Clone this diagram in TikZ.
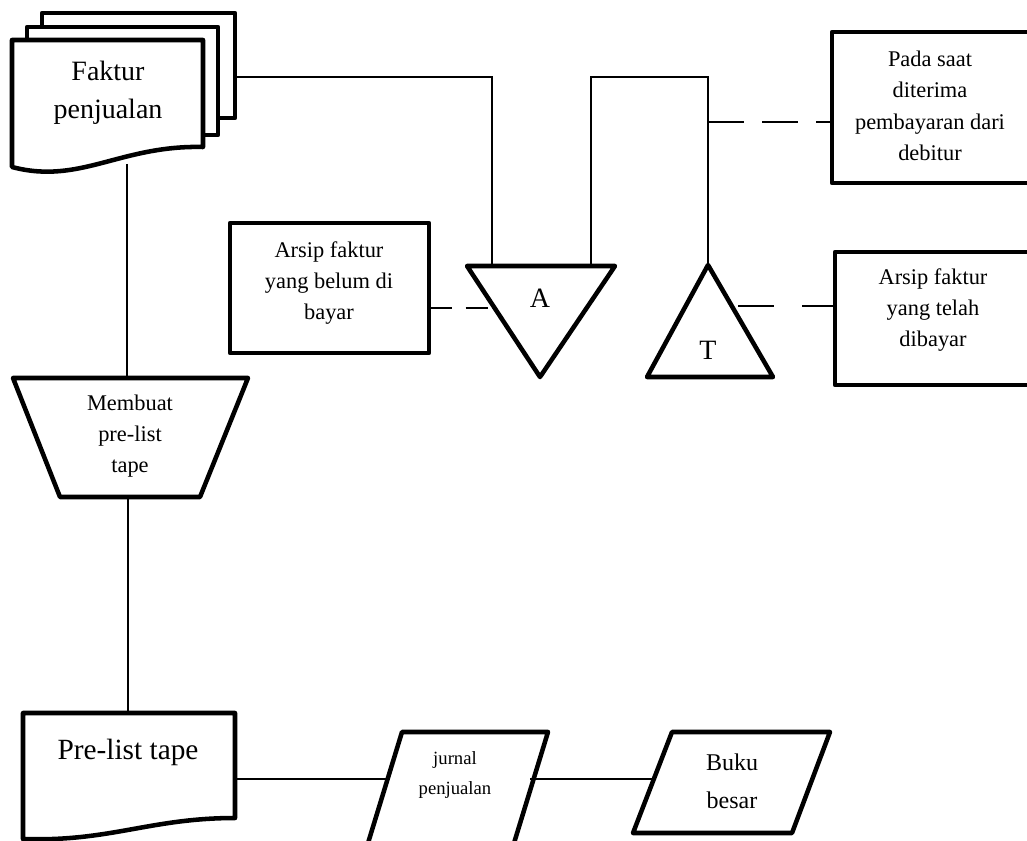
\documentclass[tikz,border=0pt]{standalone}
\usepackage{fontspec}
\setmainfont{Liberation Serif}
\begin{document}
\begin{tikzpicture}[x=0.75pt,y=-0.75pt,
  shp/.style={line width=3.4pt,line join=round,fill=white},
  conn/.style={line width=1pt},
  dconn/.style={line width=1pt,dash pattern=on 27pt off 13.5pt},
  bigtxt/.style={font=\fontsize{21}{28.5}\selectfont,align=center,inner sep=0pt},
  midtxt/.style={font=\fontsize{18}{28.5}\selectfont,align=center,inner sep=0pt},
  smalltxt/.style={font=\fontsize{16.8}{23.5}\selectfont,align=center,inner sep=0pt},
  tinytxt/.style={font=\fontsize{14}{22.5}\selectfont,align=center,inner sep=0pt}]
\useasboundingbox (0,0) rectangle (1027,841);
\clip (0,0) rectangle (1027,841);

% ---------- Faktur penjualan (multi document)
\draw[shp] (42,13) rectangle (235,118);
\draw[shp] (27,27) rectangle (218,135);
\draw[shp] (12,40) -- (203,40) -- (203,147)
   .. controls (120,145) and (80,185) .. (12,167) -- cycle;
\node[bigtxt] (fk) at (108,93) {Faktur\\penjualan};
\coordinate (fkR) at (235,77);
\coordinate (fkB) at (127,164);

% ---------- Triangle A
\draw[shp] (467,266) -- (615,266) -- (540,377) -- cycle;
\node[bigtxt] (A) at (540,298) {A};
\coordinate (AtopL) at (492,266);
\coordinate (AtopR) at (591,266);
\coordinate (Aleft) at (492,308);

% ---------- Triangle T
\draw[shp] (708,265) -- (773,377) -- (647,377) -- cycle;
\node[bigtxt] (T) at (708,350) {T};
\coordinate (Ttop) at (708,265);
\coordinate (Tright) at (738,306);
\coordinate (Tline) at (708,122);

% ---------- Boxes
\draw[shp] (832,32) rectangle (1040,183);
\node[smalltxt] (pada) at (930,106) {Pada saat\\diterima\\pembayaran dari\\debitur};
\coordinate (padaL) at (832,122);

\draw[shp] (230,223) rectangle (429,353);
\node[smalltxt] (belum) at (329,283) {Arsip faktur\\yang belum di\\bayar};
\coordinate (belumR) at (429,308);

\draw[shp] (835,252) rectangle (1040,385);
\node[smalltxt] (telah) at (933,310) {Arsip faktur\\yang telah\\dibayar};
\coordinate (telahL) at (835,306);

% ---------- Trapezoid
\draw[shp] (13,378) -- (248,378) -- (200,497) -- (60,497) -- cycle;
\node[smalltxt] (mb) at (130,436) {Membuat\\pre-list\\tape};
\coordinate (mbT) at (127,378);
\coordinate (mbB) at (128,497);

% ---------- Pre-list tape document
\draw[shp] (23,713) -- (235,713) -- (235,818)
   .. controls (150,818) and (110,842) .. (23,839) -- cycle;
\node[bigtxt,font=\fontsize{22}{28.5}\selectfont] (pl) at (128,752) {Pre-list tape};
\coordinate (plT) at (128,713);
\coordinate (plR) at (235,779);

% ---------- jurnal penjualan
\draw[shp] (402,732) -- (548,732) -- (507,866) -- (361,866) -- cycle;
\node[tinytxt] (jp) at (455,775) {jurnal\\penjualan};
\coordinate (jpL) at (388,779);
\coordinate (jpR) at (530,779);

% ---------- Buku besar
\draw[shp] (672,732) -- (830,732) -- (792,833) -- (633,833) -- cycle;
\node[midtxt] (bb) at (732,781) {Buku\\besar};
\coordinate (bbL) at (652,779);

% ---------- connectors
\draw[conn] (fkR) -| (AtopL);
\draw[conn] (AtopR) |- (700,77) -| (Ttop);
\draw[conn] (700,77) -- (708,77);
\draw[dconn] (Tline) -- (padaL);
\draw[conn,dash pattern=on 17pt off 10.5pt] (belumR) -- (Aleft);
\draw[conn,dash pattern=on 27pt off 21pt] (Tright) -- (telahL);
\draw[conn] (fkB) -- (mbT);
\draw[conn] (mbB) -- (plT);
\draw[conn] (plR) -- (jpL);
\draw[conn] (jpR) -- (bbL);
\end{tikzpicture}
\end{document}
